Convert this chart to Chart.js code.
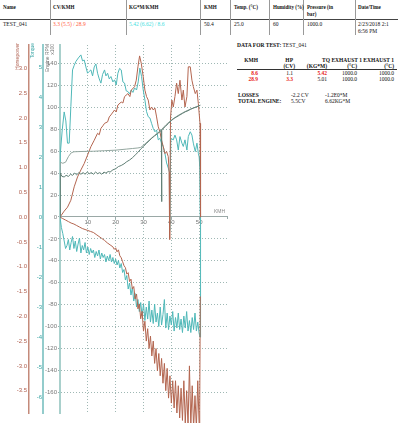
<!DOCTYPE html>
<html>
<head>
<title>TEST_041</title>
<script src="https://cdn.jsdelivr.net/npm/chart.js"></script>
<style>
  body { margin: 0; width: 398px; height: 423px; background: #fff; position: relative; overflow: hidden; }
  .t { position: absolute; font: 5.5px/6.5px "Liberation Serif", serif; white-space: nowrap; color: #111; }
  .h { font-size: 5.1px; }
  .b { font-weight: bold; }
  .r { text-align: right; }
  .v { position: absolute; top: 0; width: 1px; height: 35px; background: #999; }
  #wrap { position: absolute; left: 0; top: 0; width: 232px; height: 423px; }
</style>
</head>
<body>
<!-- header table -->
<div style="position:absolute;left:0;top:19px;width:398px;height:1px;background:#444"></div>
<div class="v" style="left:50px"></div>
<div class="v" style="left:126px"></div>
<div class="v" style="left:200px"></div>
<div class="v" style="left:230px"></div>
<div class="v" style="left:269px"></div>
<div class="v" style="left:303px"></div>
<div class="v" style="left:355px"></div>

<div class="t b h" style="left:3px;top:4px">Name</div>
<div class="t b h" style="left:53px;top:4px">CV/KMH</div>
<div class="t b h" style="left:129px;top:4px">KG*M/KMH</div>
<div class="t b h" style="left:204px;top:4px">KMH</div>
<div class="t b h" style="left:234px;top:4px">Temp. (°C)</div>
<div class="t b h" style="left:273px;top:4px">Humidity (%)</div>
<div class="t b h" style="left:307px;top:4px">Pressure (in<br>bar)</div>
<div class="t b h" style="left:358px;top:4px">Date/Time</div>

<div class="t" style="left:3px;top:21px">TEST_041</div>
<div class="t" style="left:53px;top:21px;color:#ff6040">3.3 (5.5) / 28.9</div>
<div class="t" style="left:129px;top:21px;color:#3fe0e0">5.42 (6.62) / 8.6</div>
<div class="t" style="left:204px;top:21px">50.4</div>
<div class="t" style="left:234px;top:21px">25.0</div>
<div class="t" style="left:273px;top:21px">60</div>
<div class="t" style="left:307px;top:21px">1000.0</div>
<div class="t" style="left:358px;top:21px">2/23/2018 2:1<br>6:56 PM</div>

<!-- data block -->
<div class="t" style="left:237px;top:42px"><b>DATA FOR TEST:</b> TEST_041</div>
<div class="t b r" style="right:140px;top:57px">KMH</div>
<div class="t b r" style="right:105px;top:57px">HP</div>
<div class="t b r" style="right:4px;top:57px">TQ EXHAUST 1 EXHAUST 1</div>
<div class="t b r" style="right:103px;top:63px">(CV)</div>
<div class="t b r" style="right:71px;top:63px">(KG*M)</div>
<div class="t b r" style="right:41px;top:63px">(°C)</div>
<div class="t b r" style="right:4px;top:63px">(°C)</div>
<div style="position:absolute;left:237px;top:69px;width:160px;height:1px;background:#333"></div>
<div class="t r" style="right:140px;top:70px;color:#e82020;font-weight:bold">8.6</div>
<div class="t r" style="right:105px;top:70px">1.1</div>
<div class="t r" style="right:71px;top:70px;color:#e82020;font-weight:bold">5.42</div>
<div class="t r" style="right:41px;top:70px">1000.0</div>
<div class="t r" style="right:4px;top:70px">1000.0</div>
<div class="t r" style="right:140px;top:76px;color:#e82020;font-weight:bold">28.9</div>
<div class="t r" style="right:105px;top:76px;color:#e82020;font-weight:bold">3.3</div>
<div class="t r" style="right:71px;top:76px">5.01</div>
<div class="t r" style="right:41px;top:76px">1000.0</div>
<div class="t r" style="right:4px;top:76px">1000.0</div>
<div class="t b" style="left:238px;top:92px">LOSSES</div>
<div class="t" style="left:291px;top:92px">-2.2 CV</div>
<div class="t" style="left:325px;top:92px">-1.2E0*M</div>
<div class="t b" style="left:238px;top:98px">TOTAL ENGINE:</div>
<div class="t" style="left:291px;top:98px">5.5CV</div>
<div class="t" style="left:325px;top:98px">6.62KG*M</div>

<div id="wrap"><canvas id="chart"></canvas></div>

<script>
// horsepower (CV) against speed
const hpKmh = [0, 1.5, 2.7, 3.9, 5.1, 6.3, 7.5, 8.7, 9.9, 11.1, 12.3, 13.5, 14.1, 14.7, 15.4, 16.0, 17.1, 17.7, 18.3, 19.6, 20.2, 20.8, 22.0, 22.6, 23.2, 24.4, 25.1, 25.6, 26.8, 27.4, 28.0, 28.6, 29.2, 29.9, 30.5, 31.1, 31.7, 32.3, 32.9, 33.5, 34.1, 34.7, 35.3, 35.9, 36.5, 37.1, 37.7, 38.3, 38.9, 39.2, 39.4, 39.7, 40.2, 40.7, 41.3, 41.9, 42.5, 43.1, 43.8, 44.3, 44.9, 45.6, 46.1, 46.8, 47.4, 47.9, 48.6, 49.2, 49.7, 50.3, 50.5];
const hp = [0, 0.12, 0.2, 0.34, 0.61, 0.81, 0.95, 1.08, 1.25, 1.42, 1.55, 1.69, 1.66, 1.79, 1.84, 1.89, 1.92, 2.02, 2.06, 2.16, 2.12, 2.26, 2.32, 2.3, 2.43, 2.49, 2.43, 2.56, 2.63, 2.76, 3.03, 3.25, 3.1, 2.83, 2.56, 2.43, 2.36, 2.16, 2.22, 2.16, 2.2, 2.02, 1.82, 1.72, 1.55, 1.42, 1.28, 1.32, 1.22, 0.9, -0.45, 2.0, 2.36, 2.22, 2.43, 2.7, 2.49, 2.76, 2.36, 2.56, 2.22, 2.43, 3.03, 3.03, 2.76, 2.63, 2.49, 2.56, 2.29, 1.89, 0];

// torque (KG*M) against speed
const tqKmh = [0, 0.1, 0.8, 1.5, 2.1, 2.7, 3.3, 3.9, 4.5, 5.1, 5.7, 6.6, 7.5, 8.1, 8.7, 9.3, 9.9, 10.5, 11.1, 11.7, 12.3, 12.9, 13.5, 14.1, 14.7, 15.3, 16.0, 16.5, 17.1, 17.7, 18.3, 19.0, 19.6, 20.2, 20.8, 21.4, 22.0, 22.6, 23.2, 23.8, 24.4, 25.0, 25.6, 26.2, 26.8, 27.5, 28.1, 28.7, 29.3, 29.9, 30.5, 31.1, 31.7, 32.3, 32.9, 33.5, 34.1, 34.7, 35.3, 35.9, 36.5, 37.1, 37.7, 38.3, 38.9, 39.3, 39.4, 39.8, 40.2, 40.7, 41.3, 41.9, 42.5, 43.1, 43.8, 44.3, 44.9, 45.6, 46.1, 46.8, 47.4, 47.9, 48.6, 49.2, 49.7, 50.0, 50.2, 50.4];
const torque = [0, 2.1, 2.9, 3.5, 3.2, 2.46, 2.46, 3.68, 4.9, 5.05, 5.18, 5.3, 5.4, 5.2, 5.23, 5.0, 4.79, 4.85, 4.9, 4.7, 5.0, 5.1, 4.79, 4.6, 4.46, 4.75, 4.9, 4.7, 4.79, 4.6, 4.68, 4.5, 4.57, 4.4, 4.79, 4.95, 4.9, 4.5, 4.46, 4.2, 4.18, 4.1, 4.23, 4.15, 4.3, 4.23, 4.5, 4.96, 4.68, 4.23, 3.9, 3.51, 3.34, 3.3, 3.12, 2.95, 2.84, 2.9, 2.57, 2.62, 2.46, 2.35, 2.12, 1.8, 1.63, 1.5, -0.45, 2.57, 2.6, 2.57, 2.73, 2.57, 2.23, 2.68, 2.46, 2.35, 2.57, 2.23, 2.68, 2.84, 2.73, 2.46, 2.18, 2.46, 2.12, 2.0, 1.68, 0];

// engine RPM x100 (two traces)
const rpmAKmh = [0, 0.1, 1.0, 2.0, 3.0, 4.0, 5.0, 8.0, 12.0, 16.0, 20.0, 24.0, 26.0, 28.0, 29.0, 30.0, 32.0, 34.0, 36.0, 38.0, 40.0, 42.0, 44.0, 46.0, 48.0, 50.4];
const rpmA = [0, 50, 49, 50, 55, 58.5, 59.5, 59.8, 60, 60.5, 61, 62, 62.5, 63, 63.5, 65.5, 70, 74.5, 78.5, 84, 88.5, 92, 95, 97.5, 99.5, 102];
const rpmBKmh = [0, 0.1, 0.7, 1.5, 2.2, 3.0, 3.8, 4.5, 5.3, 6.0, 6.8, 7.5, 8.3, 9.0, 9.8, 10.5, 11.3, 12.0, 12.8, 13.5, 14.3, 15.0, 15.8, 16.5, 17.3, 18.0, 19.0, 20.0, 21.0, 22.0, 23.0, 24.0, 25.0, 26.0, 27.0, 28.0, 29.0, 30.0, 31.0, 32.0, 33.0, 34.0, 35.0, 36.0, 36.4, 36.5, 36.6, 37.0, 38.0, 39.0, 40.0, 41.0, 42.0, 43.0, 44.0, 45.0, 46.0, 47.0, 48.0, 49.0, 50.4];
const rpmB = [0, 40, 37, 36.5, 38, 37, 39, 38, 40, 38.5, 40.5, 39, 40.5, 39, 41, 39.5, 40.5, 39, 41, 39.5, 40.5, 39, 41, 40, 41.5, 41, 43, 44, 46, 47, 48.5, 50.5, 52, 54, 56.5, 59, 62, 64.5, 67, 69.5, 72, 74, 76, 78, 79, 14, 79.5, 80.5, 83, 85.5, 88, 90, 91.5, 93, 94.5, 96, 97, 98.5, 99.5, 100.5, 102];

// losses
const hpLossKmh = [0, 1, 2, 3, 4, 5, 6, 7, 8, 9, 10, 11, 12, 13, 14, 15, 16, 17, 18, 19, 19.5, 20, 20.5, 21, 21.5, 22, 22.5, 23, 23.5, 24, 24.5, 25, 25.5, 26, 26.5, 27, 27.5, 28, 28.5, 29, 29.5, 30, 30.5, 31, 31.5, 32, 32.5, 33, 33.5, 34, 34.5, 35, 35.5, 36, 36.5, 37, 37.5, 38, 38.5, 39, 39.5, 40, 40.5, 41, 41.5, 42, 42.5, 43, 43.5, 44, 44.5, 45, 45.5, 46, 46.5, 47, 47.5, 48, 48.5, 49, 49.5, 50, 50.2, 50.4];
const hpLoss = [0, -0.03, -0.06, -0.09, -0.12, -0.14, -0.17, -0.2, -0.23, -0.25, -0.27, -0.29, -0.31, -0.35, -0.39, -0.43, -0.47, -0.52, -0.56, -0.6, -0.65, -0.62, -0.7, -0.66, -0.78, -0.82, -0.9, -0.98, -1.02, -1.15, -1.12, -1.3, -1.25, -1.45, -1.4, -1.65, -1.55, -1.85, -1.75, -2.05, -1.9, -2.3, -2.1, -2.5, -2.25, -2.65, -2.4, -2.8, -2.5, -2.95, -2.65, -3.1, -2.75, -3.2, -2.85, -3.35, -2.95, -3.5, -3.05, -3.65, -3.2, -3.75, -3.3, -3.85, -3.3, -3.95, -3.4, -4.05, -3.45, -4.1, -3.3, -4.15, -3.5, -4.2, -3.0, -4.2, -3.4, -4.25, -3.6, -4.25, -3.3, -4.2, -3.9, -1.6];
const tqLossKmh = [0, 0.5, 1, 1.5, 2, 2.5, 3, 3.5, 4, 4.5, 5, 5.5, 6, 6.5, 7, 7.5, 8, 8.5, 9, 9.5, 10, 10.5, 11, 11.5, 12, 12.5, 13, 13.5, 14, 14.5, 15, 15.5, 16, 16.5, 17, 17.5, 18, 18.5, 19, 19.5, 20, 20.5, 21, 21.5, 22, 22.5, 23, 23.5, 24, 24.5, 25, 25.5, 26, 26.5, 27, 27.5, 28, 28.5, 29, 29.5, 30, 30.5, 31, 31.5, 32, 32.5, 33, 33.5, 34, 34.5, 35, 35.5, 36, 36.5, 37, 37.5, 38, 38.5, 39, 39.5, 40, 40.5, 41, 41.5, 42, 42.5, 43, 43.5, 44, 44.5, 45, 45.5, 46, 46.5, 47, 47.5, 48, 48.5, 49, 49.5, 50, 50.3, 50.5];
const tqLoss = [0, -0.35, -0.55, -0.8, -1.05, -0.95, -0.75, -1.1, -0.85, -0.65, -1.05, -0.8, -1.15, -0.9, -0.7, -1.2, -0.95, -1.1, -0.85, -1.2, -1.0, -1.25, -1.05, -1.2, -1.1, -1.35, -1.15, -1.3, -1.1, -1.4, -1.2, -1.35, -1.25, -1.5, -1.3, -1.45, -1.25, -1.5, -1.35, -1.55, -1.4, -1.6, -1.45, -1.7, -1.55, -1.85, -1.75, -2.1, -1.95, -2.4, -2.2, -2.6, -2.35, -2.8, -2.55, -3.0, -2.75, -3.15, -2.85, -3.3, -2.9, -3.45, -3.0, -3.4, -2.8, -3.5, -3.1, -3.55, -2.9, -3.5, -3.2, -3.65, -3.0, -3.6, -3.25, -2.75, -3.7, -3.2, -3.75, -3.3, -3.6, -3.15, -3.8, -3.35, -3.7, -3.2, -3.75, -3.4, -3.85, -3.3, -3.7, -3.15, -3.8, -3.45, -3.85, -3.35, -3.75, -3.2, -3.8, -3.5, -3.88, -4.0, 0];

const brown = '#b3654f';
const teal = '#4fb8b8';

const xy = (xs, ys) => xs.map((x, i) => ({ x: x, y: ys[i] }));
const line = (label, data, color, axis) => ({
    label: label, data: data, yAxisID: axis,
    borderColor: color, borderWidth: 1, pointRadius: 0, tension: 0, fill: false
});

// axis titles sit rotated at the top of each axis, KMH at the end of the x axis
const axisTitles = {
    id: 'axisTitles',
    afterDraw(chart) {
        const ctx = chart.ctx;
        const put = (text, x, y, color) => {
            ctx.save();
            ctx.translate(x, y);
            ctx.rotate(-Math.PI / 2);
            ctx.fillStyle = color;
            ctx.textAlign = 'right';
            ctx.textBaseline = 'middle';
            ctx.fillText(text, 0, 0);
            ctx.restore();
        };
        ctx.font = '5px "Liberation Sans"';
        put('Horsepower', 17.5, 43, '#b06050');
        put('Torque', 33, 43, '#3aa5a5');
        put('Engine RPM', 48, 44, '#777');
        put('x100', 53, 44, '#777');
        ctx.save();
        ctx.fillStyle = '#888';
        ctx.textBaseline = 'middle';
        ctx.fillText('KMH', 214, chart.scales.y.getPixelForValue(0) - 5);
        ctx.restore();
    }
};

const tickFont = { family: 'Liberation Sans', size: 6 };

new Chart(document.getElementById('chart'), {
    type: 'line',
    data: {
        datasets: [
            line('RPM B', xy(rpmBKmh, rpmB), '#5f7e74', 'y'),
            line('RPM A', xy(rpmAKmh, rpmA), '#93a69f', 'y'),
            line('HP', xy(hpKmh, hp), brown, 'yHp'),
            line('Torque', xy(tqKmh, torque), teal, 'yTq'),
            Object.assign(line('HP losses', xy(hpLossKmh, hpLoss), brown, 'yHp'), { clip: false }),
            line('Torque losses', xy(tqLossKmh, tqLoss), teal, 'yTq')
        ]
    },
    options: {
        responsive: true,
        maintainAspectRatio: false,
        animation: false,
        layout: { padding: { top: 45, bottom: 10, left: 0, right: 5 } },
        plugins: { legend: { display: false }, tooltip: { enabled: false } },
        scales: {
            x: {
                type: 'linear',
                position: { y: 0 },
                min: 0, max: 60,
                ticks: {
                    stepSize: 10, autoSkip: false, maxRotation: 0, padding: 0,
                    color: '#777', font: tickFont,
                    callback: v => (v > 0 && v < 60) ? v : ''
                },
                grid: {
                    color: c => (c.tick && c.tick.value > 0 && c.tick.value < 60) ? '#9fb8b4' : 'rgba(0,0,0,0)',
                    tickColor: '#9aa',
                    tickLength: 2
                },
                border: { display: true, color: '#9aa8a6', width: 1, dash: [1, 2] }
            },
            y: {
                position: 'left', weight: 1,
                min: -179, max: 157,
                ticks: {
                    stepSize: 20, autoSkip: false, padding: 1,
                    color: '#777', font: tickFont,
                    callback: v => (v % 20 === 0) ? v : ''
                },
                grid: {
                    color: c => (c.tick && c.tick.value % 20 === 0 && c.tick.value !== 0) ? '#9fb8b4' : 'rgba(0,0,0,0)',
                    tickColor: c => (c.tick && c.tick.value % 20 === 0) ? '#9aa' : 'rgba(0,0,0,0)',
                    tickLength: 2
                },
                border: { display: true, color: '#a9d0cc', width: 2, dash: [1, 2] },
                afterFit: s => { s.width = 17; }
            },
            yTq: {
                position: 'left', weight: 2,
                min: -6.53, max: 5.73,
                ticks: {
                    stepSize: 1, autoSkip: false, padding: 1,
                    color: '#3aa5a5', font: tickFont,
                    callback: v => Number.isInteger(v) ? v : ''
                },
                grid: { display: false, drawTicks: false },
                border: { display: true, color: '#93cccc', width: 2 },
                afterFit: s => { s.width = 14; }
            },
            yHp: {
                position: 'left', weight: 3,
                min: -3.95, max: 3.47,
                ticks: {
                    stepSize: 0.5, autoSkip: false, padding: 2,
                    color: '#b06050', font: tickFont,
                    callback: v => (Math.abs(v * 2 - Math.round(v * 2)) < 1e-6) ? v.toFixed(1) : ''
                },
                grid: { display: false, drawTicks: false },
                border: { display: true, color: '#c48a7a', width: 1.5 },
                afterFit: s => { s.width = 29; }
            }
        }
    },
    plugins: [axisTitles]
});
</script>
</body>
</html>
